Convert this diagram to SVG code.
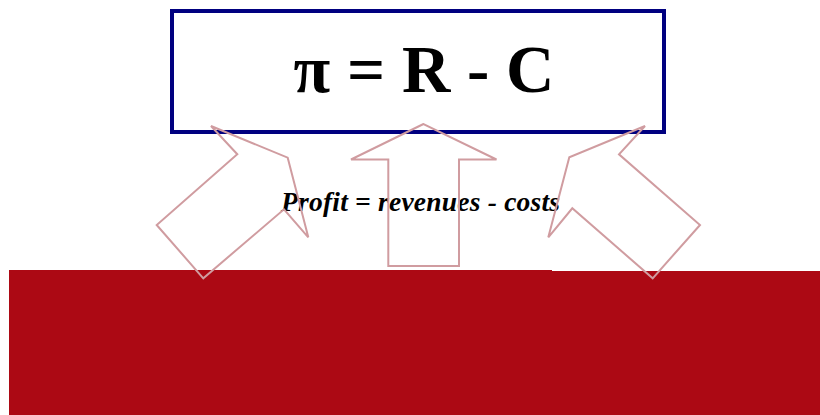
<svg xmlns="http://www.w3.org/2000/svg" width="820" height="415" viewBox="0 0 820 415">
<style>
.arrow{fill:none;stroke:#D09CA0;stroke-width:2;stroke-linejoin:miter}
.formula{font-family:"Liberation Serif","Times New Roman",serif;font-weight:bold;font-size:67px;fill:#000}
.sub{font-family:"Liberation Serif","Times New Roman",serif;font-weight:bold;font-style:italic;font-size:27.5px;fill:#000}
</style>
<rect width="820" height="415" fill="#ffffff"/>
<g id="base">
<polygon points="9,270 552,270 552,271 820,271 820,415 9,415" fill="#AC0914"/>
</g>
<g id="formula-box">
<rect x="172" y="11" width="492" height="121" fill="#ffffff" stroke="#000080" stroke-width="4"/>
<text class="formula" x="424" y="92" text-anchor="middle">π = R - C</text>
</g>
<g id="label">
<text class="sub" x="281" y="211" textLength="279" lengthAdjust="spacing">Profit = revenues - costs</text>
</g>
<g id="connectors">
<polygon class="arrow" points="211,126 237.3,154.3 156.7,225 203.3,278.3 284,209.3 308.3,237.3 287.7,157.7"/>
<polygon class="arrow" points="423.5,124 351,159.5 388.3,159.5 388.3,266 459,266 459,159.5 496.5,159.5"/>
<polygon class="arrow" points="645,126 569.3,157.3 548.3,237.3 572.3,208.3 652.7,278.3 700,225 619,154.3"/>
</g>
</svg>
